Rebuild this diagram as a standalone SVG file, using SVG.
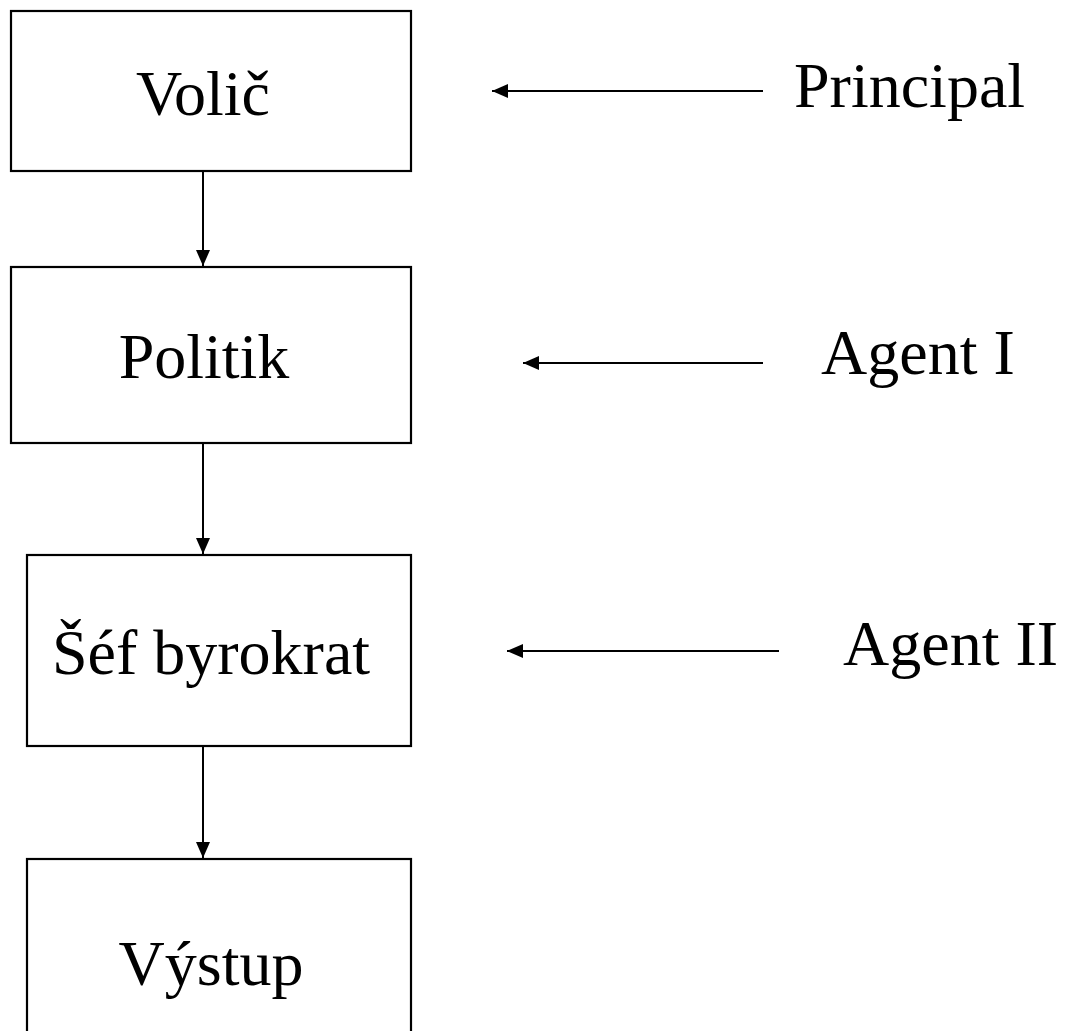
<svg xmlns="http://www.w3.org/2000/svg" width="1068" height="1031" viewBox="0 0 1068 1031">
<style>
.box{fill:#fff;stroke:#000;stroke-width:2.2}
.t{font-family:"Liberation Serif","Times New Roman",serif;font-size:64px;fill:#000}
.c{stroke:#000;stroke-width:2;fill:none}
</style>
<defs>
<marker id="ah" viewBox="0 0 16 14" refX="16" refY="7" markerWidth="16" markerHeight="14" markerUnits="userSpaceOnUse" orient="auto">
<path d="M0,0 L16,7 L0,14 Z" fill="#000"/>
</marker>
</defs>
<rect width="1068" height="1031" fill="#fff"/>
<g id="volic"><rect class="box" x="11" y="11" width="400" height="160"/><text class="t" x="203" y="115" text-anchor="middle">Volič</text></g>
<g id="politik"><rect class="box" x="11" y="267" width="400" height="176"/><text class="t" x="204" y="378" text-anchor="middle">Politik</text></g>
<g id="sef"><rect class="box" x="27" y="555" width="384" height="191"/><text class="t" x="211" y="674" text-anchor="middle">Šéf byrokrat</text></g>
<g id="vystup"><rect class="box" x="27" y="859" width="384" height="200"/><text class="t" x="211" y="985" text-anchor="middle">Výstup</text></g>
<g id="principal"><text class="t" x="794" y="107">Principal</text></g>
<g id="agent1"><text class="t" x="821" y="374">Agent I</text></g>
<g id="agent2"><text class="t" x="843" y="665">Agent II</text></g>
<g id="connectors">
<line class="c" x1="203" y1="171" x2="203" y2="266" marker-end="url(#ah)"/>
<line class="c" x1="203" y1="443" x2="203" y2="554" marker-end="url(#ah)"/>
<line class="c" x1="203" y1="746" x2="203" y2="858" marker-end="url(#ah)"/>
<line class="c" x1="763" y1="91" x2="492" y2="91" marker-end="url(#ah)"/>
<line class="c" x1="763" y1="363" x2="523" y2="363" marker-end="url(#ah)"/>
<line class="c" x1="779" y1="651" x2="507" y2="651" marker-end="url(#ah)"/>
</g>
</svg>
